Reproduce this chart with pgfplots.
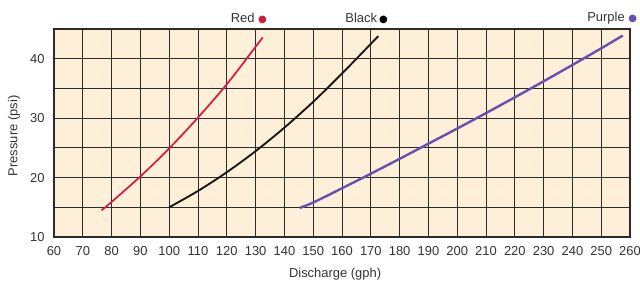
\documentclass[border=0pt]{standalone}
\usepackage{pgfplots}
\pgfplotsset{compat=1.18}
\usepackage{fontspec}
\setmainfont{Liberation Sans}
\newfontfamily\sym{DejaVu Sans}
\definecolor{bg}{HTML}{FEEFD9}
\definecolor{gridc}{HTML}{2B2B2B}
\definecolor{redc}{HTML}{D61A3C}
\definecolor{purc}{HTML}{6A4FB2}
\definecolor{txt}{HTML}{333333}
\newcommand\dotsym[1]{{\sym\fontsize{10}{12}\selectfont\textcolor{#1}{●}}}
\begin{document}
\fontsize{13}{15}\selectfont
\begin{tikzpicture}[x=1bp,y=1bp]
\useasboundingbox (-54,-45) rectangle (586,237);
\begin{axis}[
 at={(0,0)}, anchor=south west,
 scale only axis, width=576bp, height=208bp,
 xmin=60, xmax=260, ymin=10, ymax=45,
 xtick={60,70,...,260}, ytick={10,20,30,40}, minor ytick={15,25,35,45},
 grid=both,
 major grid style={gridc, line width=0.9bp},
 minor grid style={gridc, line width=0.9bp},
 major tick length=0, minor tick length=0,
 axis background/.style={fill=bg},
 axis line style={gridc, line width=1.6bp},
 tick label style={font=\fontsize{13}{15}\selectfont, text=txt},
 /pgf/number format/assume math mode=true,
 xticklabel style={yshift=-5bp},
 yticklabel style={xshift=-5bp},
 label style={font=\fontsize{13}{15}\selectfont, text=txt},
 xlabel={Discharge (gph)}, ylabel={Pressure (psi)},
 xlabel style={at={(axis description cs:0.488,-0.18)}, anchor=center},
 ylabel style={at={(axis description cs:-0.0694,0.486)}, anchor=center},
 clip=false,
]
\addplot[redc, line width=1.7bp, smooth] coordinates {
 (76.5,14.5) (80,15.9) (90,20.2) (100,24.9) (110,30.1) (120,35.7) (130,42.0) (132.5,43.6)};
\addplot[black!90, line width=1.9bp, smooth] coordinates {
 (100,15) (110,17.75) (120,20.9) (130,24.45) (140,28.4) (150,32.75) (160,37.5) (170,42.5) (172.6,43.8)};
\addplot[purc, line width=2.4bp, smooth] coordinates {
 (145.3,14.9) (150,15.8) (160,18.2) (170,20.65) (180,23.15) (190,25.7) (200,28.25) (210,30.85) (220,33.5) (230,36.2) (240,38.95) (250,41.75) (257.5,43.9)};
\node[anchor=east, text=txt, yshift=10.5bp, inner sep=0pt] at (axis cs:134,45) {Red \dotsym{redc}};
\node[anchor=east, text=txt, yshift=10.5bp, inner sep=0pt] at (axis cs:176,45) {Black\,\dotsym{black}};
\node[anchor=east, text=txt, yshift=10.5bp, inner sep=0pt] at (axis cs:262.5,45) {Purple \dotsym{purc}};
\end{axis}
\end{tikzpicture}
\end{document}
